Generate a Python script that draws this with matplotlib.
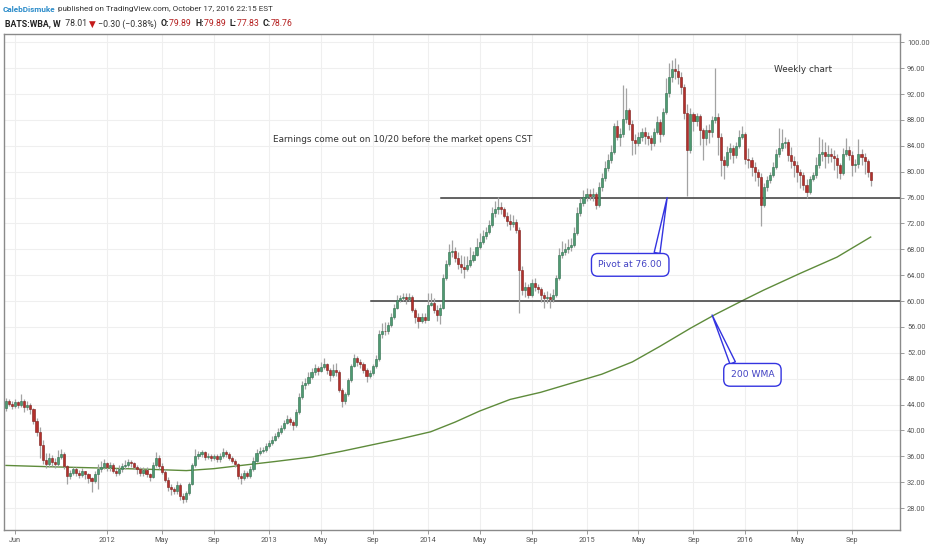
import numpy as np
import matplotlib
matplotlib.use("Agg")
import matplotlib.pyplot as plt
import matplotlib.dates as mdates
from matplotlib import font_manager

# ---------------- data ----------------
first_bar = "2011-05-16"   # weekly bars (Mondays)
first_open = 43.4
closes = [
    44.6, 44.1, 43.8, 44.4, 43.9, 44.5, 43.6, 44.0, 43.3, 41.5,
    39.8, 37.8, 35.4, 34.8, 35.7, 35.1, 34.8, 35.9, 36.3, 34.5,
    33.0, 33.5, 34.0, 33.5, 33.1, 33.7, 33.2, 32.7, 32.2, 33.3,
    34.1, 34.4, 34.9, 34.3, 34.7, 33.8, 33.4, 34.0, 34.5, 34.7,
    35.1, 34.9, 34.4, 34.0, 33.4, 33.9, 33.2, 32.8, 34.6, 35.8,
    34.5, 33.6, 32.4, 31.3, 30.9, 30.6, 31.6, 29.9, 29.4, 30.3,
    31.8, 34.7, 36.0, 36.3, 36.6, 35.9, 36.1, 35.7, 36.0, 35.6,
    36.1, 36.6, 36.4, 35.8, 35.3, 34.8, 32.9, 32.6, 33.5, 33.0,
    34.1, 35.3, 36.5, 36.8, 37.0, 37.6, 38.1, 38.6, 39.1, 39.7,
    40.4, 41.2, 41.8, 41.3, 40.8, 42.8, 45.2, 47.0, 47.4, 48.3,
    49.0, 49.6, 49.2, 49.8, 50.2, 49.4, 48.6, 49.3, 49.0, 46.2,
    44.6, 45.6, 47.8, 50.0, 51.2, 50.6, 50.2, 49.4, 48.4, 48.9,
    49.9, 51.0, 54.9, 55.4, 55.3, 56.3, 57.6, 59.0, 60.2, 60.4,
    60.6, 60.3, 60.7, 58.6, 57.5, 56.9, 57.6, 57.1, 59.4, 59.7,
    58.6, 57.8, 59.0, 63.6, 65.8, 67.6, 67.7, 66.6, 65.8, 65.3,
    65.0, 65.6, 66.3, 67.2, 68.4, 69.2, 70.0, 70.7, 71.7, 73.6,
    74.3, 74.5, 74.2, 73.2, 72.4, 71.9, 72.3, 71.0, 64.8, 61.7,
    62.2, 61.0, 62.8, 62.2, 61.8, 60.9, 60.4, 60.7, 60.3, 61.0,
    63.5, 67.1, 67.6, 68.0, 68.3, 68.7, 70.5, 73.6, 75.1, 76.1,
    76.6, 76.3, 76.5, 74.9, 77.7, 79.0, 80.5, 81.8, 83.1, 87.0,
    85.3, 85.9, 88.1, 89.5, 87.3, 84.9, 84.4, 85.4, 86.2, 85.5,
    85.2, 84.4, 86.2, 87.7, 85.8, 89.3, 92.1, 94.7, 95.8, 95.6,
    94.7, 93.1, 89.0, 83.4, 88.9, 87.8, 88.6, 86.4, 85.2, 86.5,
    86.2, 88.0, 88.5, 85.4, 81.8, 81.0, 83.0, 83.6, 82.6, 84.0,
    85.4, 85.9, 82.0, 81.8, 80.8, 80.0, 79.2, 74.9, 77.7, 78.7,
    79.5, 80.8, 82.8, 83.6, 84.4, 84.6, 82.6, 81.6, 81.0, 80.0,
    79.5, 78.0, 76.9, 78.9, 79.5, 81.0, 82.8, 83.1, 82.4, 82.8,
    82.5, 82.1, 81.0, 79.8, 82.8, 83.4, 82.6, 81.0, 81.2, 82.8,
    82.2, 81.6, 79.9, 78.76,
]
highs = [
    45.0, 44.9, 44.5, 44.8, 44.6, 45.6, 44.8, 44.6, 44.3, 43.5,
    42.0, 40.5, 38.5, 36.5, 36.5, 36.2, 35.8, 37.0, 37.2, 36.6,
    34.7, 33.9, 34.4, 34.3, 33.9, 34.2, 33.8, 33.4, 32.8, 33.7,
    34.8, 35.3, 35.6, 35.2, 35.1, 35.0, 34.2, 34.6, 35.0, 35.4,
    35.6, 35.5, 35.2, 34.6, 34.3, 34.4, 34.3, 33.4, 35.2, 36.7,
    36.2, 35.0, 34.0, 32.8, 31.8, 31.3, 32.2, 31.9, 30.4, 30.6,
    32.0, 35.0, 37.2, 36.9, 37.0, 36.8, 36.5, 36.4, 36.4, 36.3,
    36.5, 37.3, 37.0, 36.6, 36.1, 35.6, 35.0, 33.4, 33.9, 33.8,
    34.5, 35.9, 37.2, 37.4, 37.5, 38.0, 38.6, 39.1, 39.6, 40.4,
    40.9, 41.6, 42.4, 42.1, 41.6, 43.3, 45.8, 47.6, 48.1, 49.0,
    49.7, 50.3, 50.0, 50.6, 51.2, 50.5, 49.6, 50.3, 50.5, 49.3,
    46.6, 46.0, 48.1, 50.3, 51.8, 51.5, 51.1, 50.6, 49.6, 49.3,
    50.2, 51.6, 55.5, 56.6, 56.8, 56.8, 58.1, 59.5, 60.9, 61.0,
    61.3, 61.2, 61.3, 60.9, 58.9, 58.1, 58.2, 58.1, 61.2, 61.3,
    60.4, 59.4, 59.5, 64.2, 66.4, 68.9, 69.5, 68.4, 67.6, 67.2,
    66.9, 66.9, 68.4, 67.8, 69.7, 70.5, 71.0, 71.4, 72.5, 74.5,
    75.5, 76.1, 75.3, 74.6, 73.8, 73.5, 73.3, 72.7, 71.5, 65.4,
    62.9, 62.6, 63.4, 63.5, 62.7, 62.2, 61.4, 61.6, 61.2, 61.8,
    64.0, 68.2, 69.3, 69.0, 69.6, 69.8, 71.5, 74.6, 75.9, 77.2,
    77.5, 77.3, 77.5, 76.8, 78.4, 79.8, 81.7, 82.8, 84.2, 87.6,
    88.0, 86.8, 93.4, 92.9, 89.9, 88.0, 85.8, 86.2, 86.8, 86.9,
    86.2, 85.7, 86.8, 88.6, 88.2, 89.8, 94.5, 96.8, 97.3, 97.5,
    96.6, 95.4, 93.6, 90.4, 89.8, 89.3, 89.1, 88.9, 86.7, 87.2,
    87.3, 88.6, 96.0, 89.0, 86.0, 82.5, 84.0, 84.5, 84.2, 84.6,
    86.5, 87.0, 86.2, 83.6, 82.3, 81.5, 80.4, 79.8, 78.2, 79.3,
    80.0, 81.5, 83.5, 86.8, 86.6, 85.3, 85.0, 83.8, 82.4, 81.6,
    80.4, 80.0, 78.8, 79.4, 80.0, 82.3, 85.3, 85.0, 84.6, 84.2,
    83.6, 83.4, 82.8, 81.4, 83.6, 85.2, 84.0, 83.2, 82.0, 85.0,
    83.5, 82.9, 82.0, 79.89,
]
lows = [
    43.0, 43.8, 43.3, 43.5, 43.5, 43.6, 42.9, 43.2, 42.6, 41.0,
    39.2, 35.8, 34.8, 34.2, 34.3, 34.5, 34.2, 34.5, 35.6, 34.0,
    31.8, 32.5, 33.1, 33.0, 32.6, 32.8, 32.5, 31.9, 30.5, 31.9,
    31.0, 33.6, 34.0, 33.8, 33.8, 33.4, 32.9, 33.1, 33.6, 34.1,
    34.4, 34.4, 34.0, 33.3, 32.9, 33.0, 32.8, 32.2, 32.6, 34.3,
    34.0, 33.2, 32.0, 30.6, 30.0, 30.2, 30.2, 29.3, 28.8, 29.0,
    30.0, 31.5, 34.3, 35.6, 35.9, 35.5, 35.6, 35.3, 35.4, 35.2,
    35.2, 35.8, 35.9, 35.4, 34.9, 34.4, 32.5, 31.8, 32.3, 32.6,
    32.7, 33.8, 35.1, 36.2, 36.5, 36.7, 37.3, 37.8, 38.3, 38.9,
    39.4, 40.1, 41.0, 40.8, 40.1, 40.6, 42.5, 44.9, 46.4, 47.0,
    47.9, 48.5, 48.6, 49.0, 49.5, 48.8, 47.7, 48.3, 48.4, 45.9,
    43.6, 44.1, 45.4, 47.5, 49.8, 50.0, 49.7, 48.9, 47.5, 48.1,
    48.5, 49.6, 50.8, 54.3, 54.7, 54.9, 56.0, 57.3, 58.8, 59.8,
    60.0, 59.6, 60.0, 58.3, 56.6, 55.8, 56.6, 56.6, 57.0, 59.2,
    58.2, 56.9, 56.5, 58.8, 63.2, 65.4, 66.8, 66.0, 65.0, 64.3,
    63.5, 64.6, 65.3, 66.0, 66.9, 68.1, 68.8, 69.6, 70.4, 71.4,
    73.0, 73.4, 73.5, 72.8, 71.6, 71.0, 71.4, 70.5, 58.2, 61.0,
    60.6, 60.4, 60.6, 61.6, 61.2, 59.8, 58.9, 59.7, 59.0, 59.9,
    60.6, 63.2, 66.6, 67.2, 67.4, 67.8, 68.4, 70.2, 73.2, 74.7,
    75.4, 75.6, 75.5, 74.3, 74.6, 77.0, 78.6, 80.1, 81.3, 82.8,
    84.9, 84.0, 85.3, 87.6, 86.4, 82.6, 82.8, 84.0, 84.8, 84.3,
    84.2, 83.3, 84.0, 85.8, 84.6, 85.5, 88.9, 91.5, 93.8, 94.3,
    93.6, 92.0, 88.2, 76.2, 82.9, 86.3, 87.1, 84.2, 81.8, 84.2,
    84.5, 85.3, 87.5, 82.6, 79.3, 78.8, 80.7, 82.0, 81.4, 82.1,
    83.6, 85.0, 81.2, 80.5, 79.4, 78.5, 77.8, 71.6, 74.5, 77.0,
    78.3, 79.2, 80.4, 82.2, 83.2, 83.6, 81.6, 80.6, 79.2, 78.4,
    77.5, 77.2, 76.0, 76.5, 78.6, 79.0, 80.5, 81.6, 80.6, 81.3,
    81.5, 80.2, 79.0, 78.9, 79.5, 82.4, 81.8, 79.4, 80.0, 80.6,
    81.0, 79.6, 79.2, 77.83,
]
# 200 WMA read at selected bars
ma_bar = [0, 14, 31, 47, 59, 68, 77, 88, 100, 110, 119, 129, 139, 147, 155,
          165, 175, 185, 195, 205, 214, 224, 232, 242, 248, 260, 272, 283]
ma_val = [34.6, 34.4, 34.2, 34.0, 33.8, 34.1, 34.6, 35.2, 35.9, 36.8, 37.7,
          38.7, 39.8, 41.3, 43.0, 44.8, 45.9, 47.3, 48.7, 50.6, 53.0, 55.8,
          57.9, 60.3, 61.7, 64.3, 66.8, 69.9]

ytick_vals = [28, 32, 36, 40, 44, 48, 52, 56, 60, 64, 68, 72, 76, 80, 84, 88, 92, 96, 100]
month_ticks = ["2011-06", "2012-01", "2012-05", "2012-09", "2013-01", "2013-05",
               "2013-09", "2014-01", "2014-05", "2014-09", "2015-01", "2015-05",
               "2015-09", "2016-01", "2016-05", "2016-09"]
month_labels = ["Jun", "2012", "May", "Sep", "2013", "May", "Sep", "2014", "May",
                "Sep", "2015", "May", "Sep", "2016", "May", "Sep"]

level_vals = [76.0, 60.0]
level_start = ["2014-02-06", "2013-08-30"]

note_main = "Earnings come out on 10/20 before the market opens CST"
note_weekly = "Weekly chart"
callout_pivot = "Pivot at 76.00"
callout_wma = "200 WMA"

# ---------------- fonts ----------------
installed = {f.name for f in font_manager.fontManager.ttflist}
narrow = "Liberation Sans Narrow" if "Liberation Sans Narrow" in installed else "Roboto"
tick_size = 5.9 if narrow == "Liberation Sans Narrow" else 5.3

# ---------------- figure ----------------
W, H = 932, 550
fig = plt.figure(figsize=(W / 100, H / 100), dpi=100)
fig.patch.set_facecolor("white")
ax = fig.add_axes([4 / W, (H - 530) / H, 896 / W, 496 / H])

n = len(closes)
start = np.datetime64(first_bar)
dates = start + np.arange(n) * np.timedelta64(7, "D")
x0 = mdates.date2num(start)
xs = x0 + 7.0 * np.arange(n)
closes_a = np.array(closes)
opens_a = np.concatenate([[first_open], closes_a[:-1]])
highs_a = np.array(highs)
lows_a = np.array(lows)

def bx(i):
    return x0 + 7.0 * i

ax.set_xlim(bx(-0.65), bx(292.6))
ax.set_ylim(24.62, 101.28)

# grid
for v in ytick_vals:
    ax.axhline(v, color="#efefef", lw=0.8, zorder=0)
tick_x = []
for m in month_ticks:
    d0 = np.datetime64(m + "-01")
    k = np.searchsorted(dates, d0)
    tick_x.append(xs[k])
for tx in tick_x:
    ax.axvline(tx, color="#efefef", lw=0.8, zorder=0)

# WMA
ax.plot(x0 + 7.0 * np.array(ma_bar), ma_val, color="#5e8b3b", lw=1.0, zorder=2)

# level lines
for v, s in zip(level_vals, level_start):
    xs0 = mdates.date2num(np.datetime64(s))
    ax.plot([xs0, bx(292.6)], [v, v], color="#3a3a3a", lw=1.1, zorder=3)

# candles
up = closes_a >= opens_a
ax.vlines(xs, lows_a, highs_a, color="#a3a3a3", lw=0.9, zorder=4)
body_lo = np.minimum(opens_a, closes_a)
body_h = np.maximum(np.abs(closes_a - opens_a), 0.15)
ax.bar(xs[up], body_h[up], bottom=body_lo[up], width=4.8, color="#4e9a72",
       edgecolor="#2f6e4d", linewidth=0.4, zorder=5)
ax.bar(xs[~up], body_h[~up], bottom=body_lo[~up], width=4.8, color="#b3302c",
       edgecolor="#7e1d1a", linewidth=0.4, zorder=5)

# axes styling
for sp in ax.spines.values():
    sp.set_color("#8a8a8a")
    sp.set_linewidth(1.0)
ax.yaxis.tick_right()
ax.set_yticks(ytick_vals)
ax.set_yticklabels(["%.2f" % v for v in ytick_vals])
ax.set_xticks(tick_x)
ax.set_xticklabels(month_labels)
ax.tick_params(axis="y", length=3, width=0.6, color="#8a8a8a", labelsize=tick_size,
               labelcolor="#555555", pad=2)
ax.tick_params(axis="x", length=3, width=0.6, color="#8a8a8a", labelsize=tick_size,
               labelcolor="#555555", pad=2)
for lab in ax.get_xticklabels() + ax.get_yticklabels():
    lab.set_family(narrow)

# text notes
ax.text(bx(87.5), 84.9, note_main, fontsize=6.4, color="#333333",
        family="DejaVu Sans", ha="left", va="center")
ax.text(bx(251.5), 95.8, note_weekly, fontsize=6.4, color="#333333",
        family="DejaVu Sans", ha="left", va="center")

# callouts
blue_e = "#3434e0"
blue_t = "#4242c4"
ax.annotate(callout_pivot, xy=(bx(216.4), 76.0), xytext=(bx(204.3), 65.6),
            fontsize=6.6, color=blue_t, ha="center", va="center", zorder=8,
            bbox=dict(boxstyle="round,pad=0.75,rounding_size=0.7", fc="white",
                      ec=blue_e, lw=1.0),
            arrowprops=dict(arrowstyle="wedge,tail_width=0.35,shrink_factor=0.5",
                            fc="white", ec=blue_e, lw=1.0, relpos=(0.9, 1.0),
                            shrinkA=0, shrinkB=0, mutation_scale=12))
ax.annotate(callout_wma, xy=(bx(231.1), 57.85), xytext=(bx(244.3), 48.6),
            fontsize=6.6, color=blue_t, ha="center", va="center", zorder=8,
            bbox=dict(boxstyle="round,pad=0.75,rounding_size=0.7", fc="white",
                      ec=blue_e, lw=1.0),
            arrowprops=dict(arrowstyle="wedge,tail_width=0.35,shrink_factor=0.5",
                            fc="white", ec=blue_e, lw=1.0, relpos=(0.12, 1.0),
                            shrinkA=0, shrinkB=0, mutation_scale=12))

# header
hdr_fam = ["Roboto", "DejaVu Sans"]
line1 = [("CalebDismuke", "#2a8bc9", "bold"),
         (" published on TradingView.com, October 17, 2016 22:15 EST", "#333333", "normal")]
line2 = [("BATS:WBA, W", "#222222", "bold"), ("  78.01 ", "#333333", "normal"),
         ("\u25bc", "#c41a1a", "normal"), (" \u22120.30 (\u22120.38%)  ", "#333333", "normal"),
         ("O:", "#222222", "bold"), ("79.89  ", "#b52020", "normal"),
         ("H:", "#222222", "bold"), ("79.89  ", "#b52020", "normal"),
         ("L:", "#222222", "bold"), ("77.83  ", "#b52020", "normal"),
         ("C:", "#222222", "bold"), ("78.76", "#b52020", "normal")]

fig.canvas.draw()
rend = fig.canvas.get_renderer()

def chain(pieces, x_px, y_px, size):
    x = x_px
    for s, c, w in pieces:
        t = fig.text(x / W, 1 - y_px / H, s, color=c, fontweight=w, fontsize=size,
                     family=hdr_fam, ha="left", va="center")
        bb = t.get_window_extent(renderer=rend)
        x += bb.width

chain(line1, 3, 9, 5.9)
chain(line2, 5, 24, 6.3)

fig.savefig("out.png", dpi=100, facecolor="white")
